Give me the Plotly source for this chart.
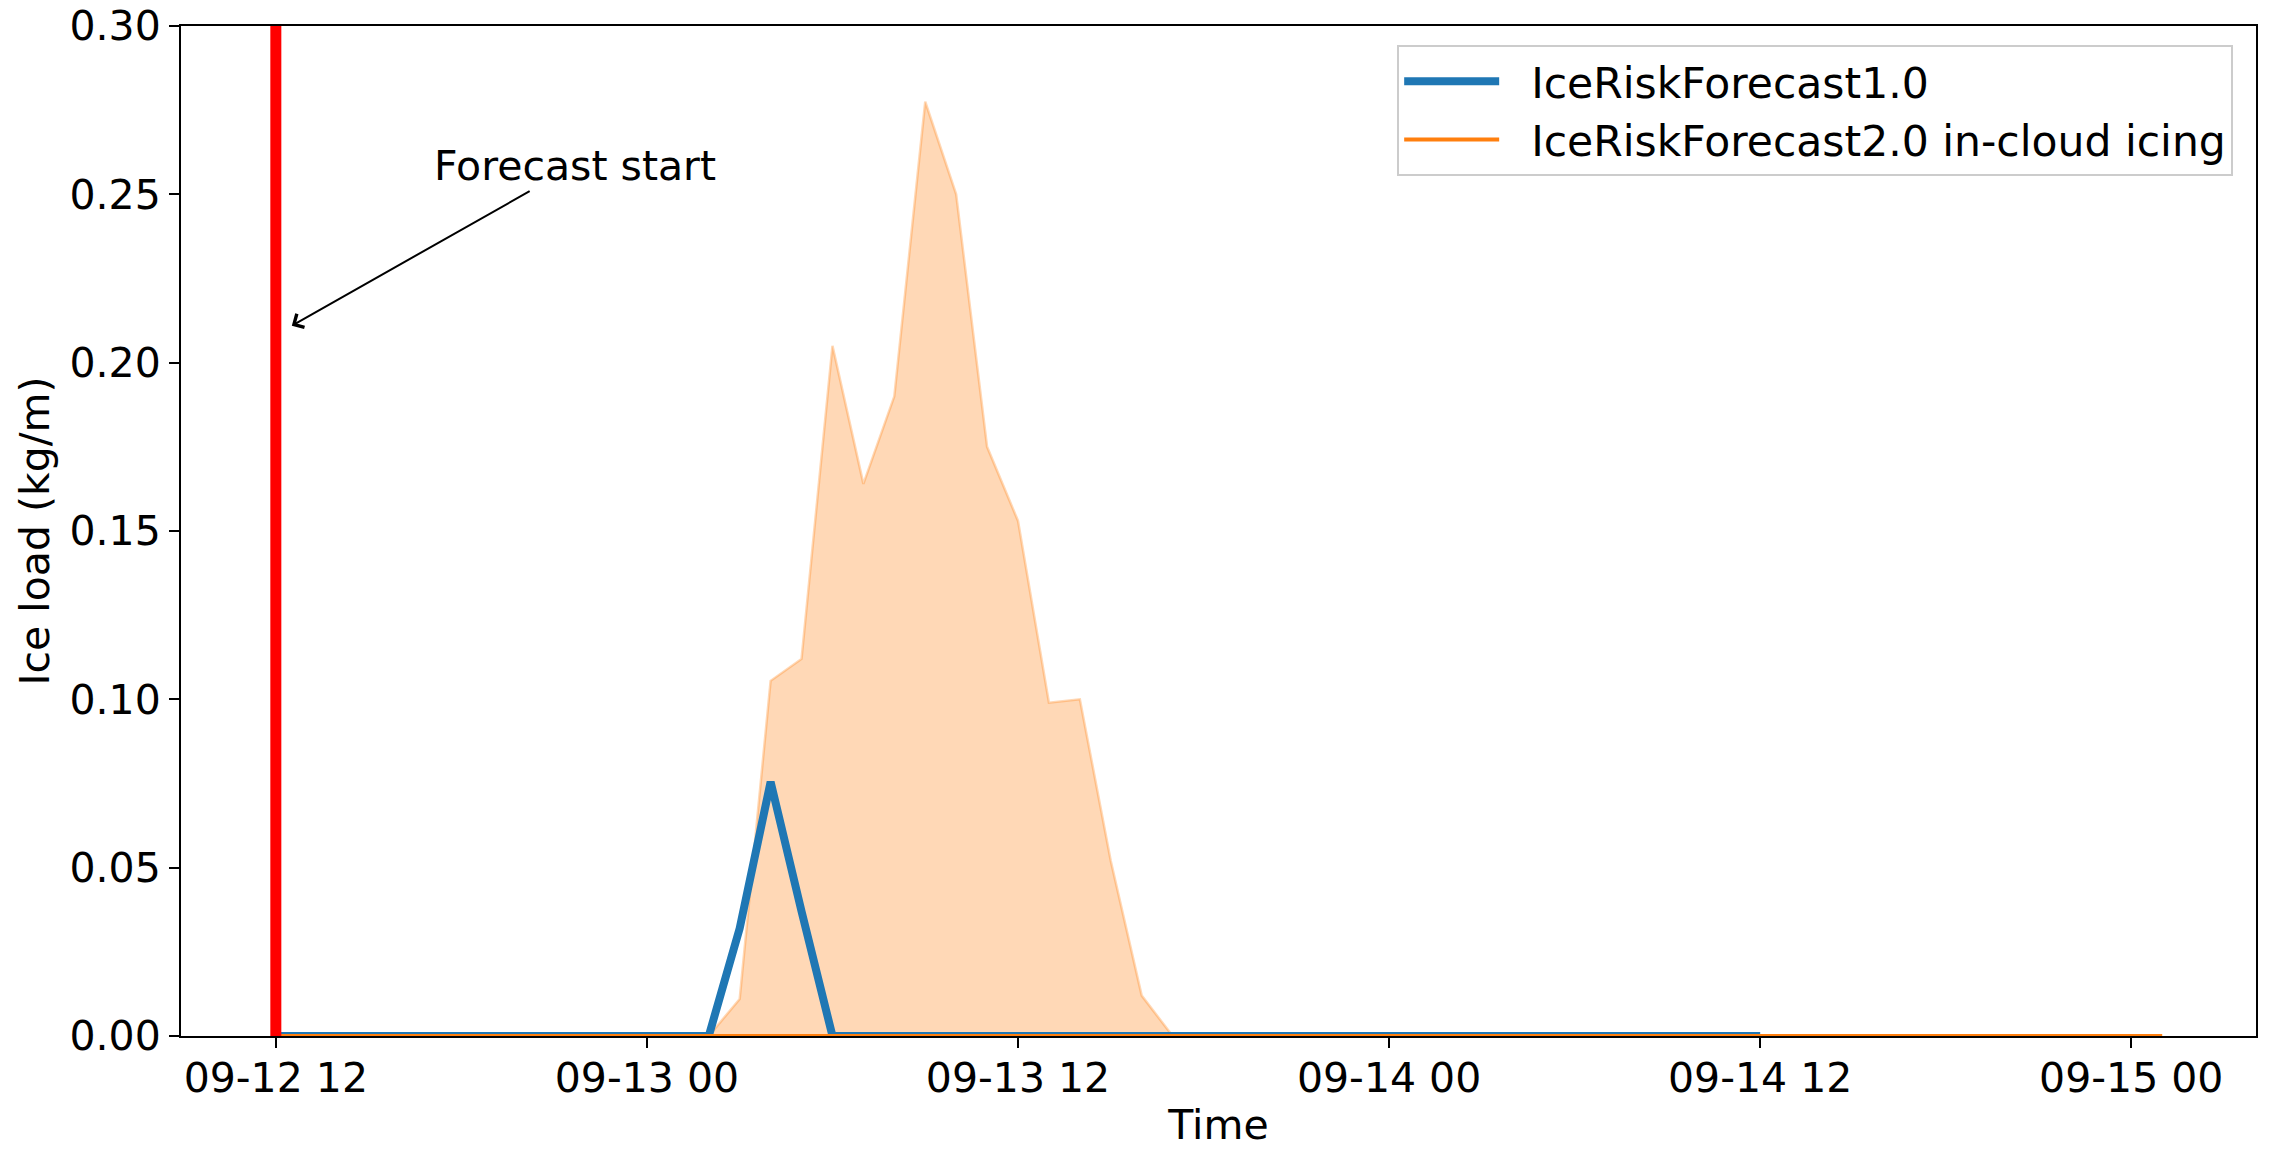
import plotly.graph_objects as go

# Forecast issue time
forecast_start = "2023-09-12 12:00"

# IceRiskForecast1.0 ice load (kg/m)
v1_times = ["2023-09-12 12:00", "2023-09-13 02:00", "2023-09-13 03:00",
            "2023-09-13 04:00", "2023-09-13 05:00", "2023-09-13 06:00",
            "2023-09-14 12:00"]
v1_load = [0.0, 0.0, 0.032, 0.0755, 0.037, 0.0, 0.0]

# IceRiskForecast2.0 line (flat at zero over the forecast period)
v2_times = ["2023-09-12 12:00", "2023-09-15 01:00"]
v2_load = [0.0, 0.0]

# IceRiskForecast2.0 in-cloud icing (shaded area), hourly
cloud_times = ["2023-09-13 02:00", "2023-09-13 03:00", "2023-09-13 04:00",
               "2023-09-13 05:00", "2023-09-13 06:00", "2023-09-13 07:00",
               "2023-09-13 08:00", "2023-09-13 09:00", "2023-09-13 10:00",
               "2023-09-13 11:00", "2023-09-13 12:00", "2023-09-13 13:00",
               "2023-09-13 14:00", "2023-09-13 15:00", "2023-09-13 16:00",
               "2023-09-13 17:00"]
cloud_load = [0.0, 0.011, 0.1055, 0.112, 0.205, 0.164, 0.190, 0.2775,
              0.250, 0.175, 0.153, 0.099, 0.100, 0.052, 0.012, 0.0]

x_range = ["2023-09-12 08:56", "2023-09-15 04:02"]
y_ticks = [0.0, 0.05, 0.10, 0.15, 0.20, 0.25, 0.30]

BLUE = "#1f77b4"
ORANGE = "#ff7f0e"
FONT = "DejaVu Sans"
PAD = "\u00a0\u00a0"  # spacing between legend handle and label

fig = go.Figure()

fig.add_trace(go.Scatter(
    x=cloud_times, y=cloud_load, mode="lines",
    fill="tozeroy", fillcolor="rgba(255,127,14,0.3)",
    line=dict(color="rgba(255,127,14,0.3)", width=2.5),
    showlegend=False, hoverinfo="skip",
))
fig.add_trace(go.Scatter(
    x=v1_times, y=v1_load, mode="lines", name=PAD + "IceRiskForecast1.0",
    legendgroup="v1", line=dict(color=BLUE, width=8),
))
fig.add_trace(go.Scatter(
    x=v2_times, y=v2_load, mode="lines",
    name=PAD + "IceRiskForecast2.0 in-cloud icing", legendgroup="v2",
    line=dict(color=ORANGE, width=4),
))

# Forecast start marker
fig.add_shape(type="line", xref="x", yref="paper",
              x0=forecast_start, x1=forecast_start, y0=0, y1=1,
              line=dict(color="red", width=11), layer="above")

fig.add_annotation(
    x="2023-09-12 12:31", y=0.211, xref="x", yref="y",
    ax="2023-09-12 21:40", ay=0.2585, axref="x", ayref="y",
    text="Forecast start", showarrow=True,
    arrowhead=4, arrowsize=1.5, arrowwidth=2, arrowcolor="black",
    font=dict(family=FONT, size=41, color="black"),
)

axis_common = dict(
    showgrid=False, zeroline=False, showline=True, linecolor="black",
    linewidth=2, mirror=True, ticks="outside", ticklen=10, tickwidth=2,
    tickcolor="black", tickfont=dict(family=FONT, size=41, color="black"),
    automargin=False,
)

fig.update_xaxes(
    type="date", range=x_range, tick0=forecast_start, dtick=12 * 3600 * 1000,
    tickformat="%m-%d %H", ticklabelstandoff=-5,
    title=dict(text="Time", font=dict(family=FONT, size=41, color="black"),
               standoff=12),
    **axis_common,
)
fig.update_yaxes(
    range=[0, 0.3], tickvals=y_ticks, tickformat=".2f",
    title=dict(text="Ice load (kg/m)",
               font=dict(family=FONT, size=41, color="black"), standoff=7),
    **axis_common,
)

fig.update_layout(
    width=2272, height=1149,
    margin=dict(l=181, r=16, t=26, b=113),
    paper_bgcolor="white", plot_bgcolor="white",
    font=dict(family=FONT, size=41, color="black"),
    legend=dict(
        x=0.989, y=0.981, xanchor="right", yanchor="top",
        bgcolor="white", bordercolor="#cccccc", borderwidth=2,
        font=dict(family=FONT, size=42.5, color="black"),
        itemwidth=95, traceorder="grouped", tracegroupgap=0,
    ),
)

fig.write_html("out.html")
